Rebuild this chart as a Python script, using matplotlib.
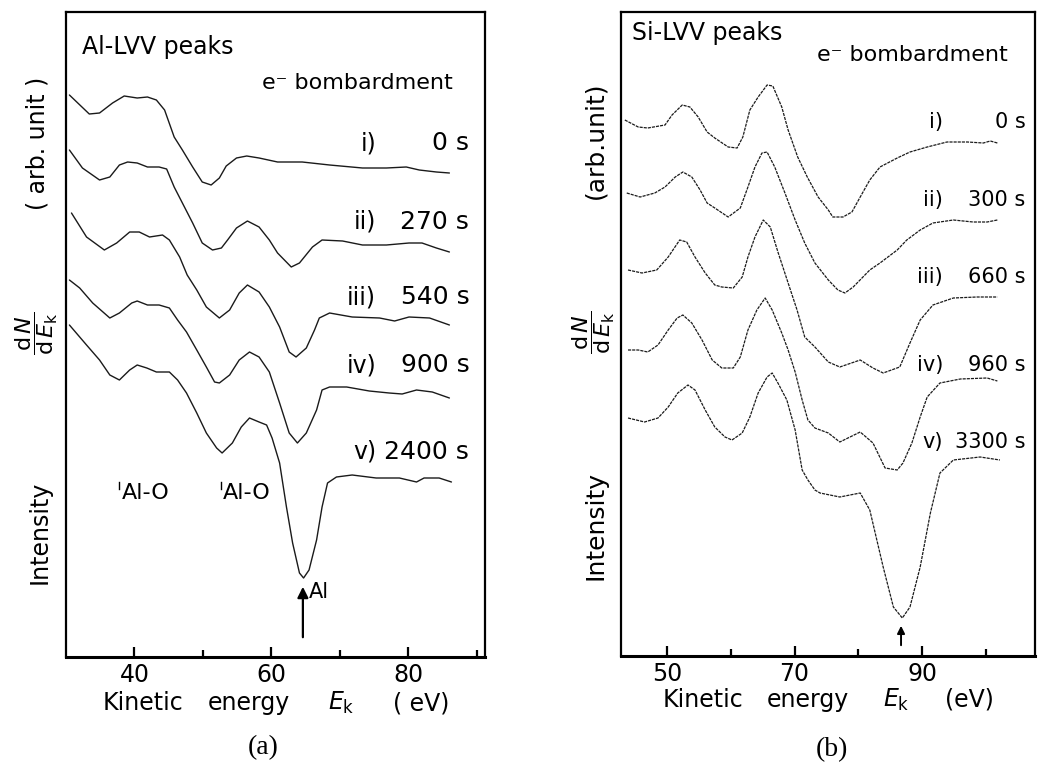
import matplotlib
matplotlib.use("Agg")
import matplotlib.pyplot as plt
from matplotlib.ticker import FixedLocator, NullLocator

plt.rcParams['font.family'] = ['DejaVu Sans']
plt.rcParams['mathtext.fontset'] = 'dejavusans'

# ---------------- Al-LVV spectra (kinetic energy / eV, dN/dE offset, arb. units)
AL_E_1 = [30.5, 33.4, 34.9, 36.8, 38.5, 40.4, 41.9, 43.2, 44.4, 45.8, 47.0, 48.5, 49.9, 51.2, 52.4, 53.4,
          54.9, 56.4, 58.2, 60.9, 64.5, 68.5, 73.3, 76.8, 79.7, 81.6, 84.1, 86.0]
AL_I_1 = [56.2, 54.3, 54.4, 55.4, 56.1, 55.9, 56.0, 55.7, 54.7, 52.0, 50.7, 49.0, 47.5, 47.2, 47.9, 49.1,
          49.9, 50.1, 49.9, 49.5, 49.5, 49.2, 48.9, 48.9, 49.0, 48.7, 48.5, 48.4]

AL_E_2 = [30.5, 32.4, 34.9, 36.4, 37.8, 39.0, 40.4, 41.9, 43.6, 44.7, 45.8, 47.3, 48.5, 49.9, 51.4, 52.7,
          53.6, 54.9, 56.5, 58.2, 59.7, 60.9, 62.9, 64.1, 66.0, 67.4, 70.4, 73.3, 76.8, 80.1, 82.0, 84.1, 86.0]
AL_I_2 = [50.7, 48.9, 47.7, 48.0, 49.2, 49.5, 49.4, 49.0, 49.0, 48.8, 47.0, 45.0, 43.4, 41.4, 40.7, 40.9,
          41.7, 42.9, 43.6, 43.0, 41.7, 40.4, 39.0, 39.4, 41.0, 41.7, 41.6, 41.2, 41.2, 41.4, 41.4, 40.9, 40.5]

AL_E_3 = [30.8, 33.0, 35.6, 37.4, 39.3, 40.7, 42.2, 44.1, 45.1, 46.6, 47.7, 49.1, 50.5, 52.4, 53.9, 55.3,
          56.5, 58.2, 59.7, 61.2, 62.6, 63.6, 65.1, 66.3, 67.0, 68.5, 71.8, 75.8, 78.0, 80.1, 83.1, 86.0]
AL_I_3 = [44.4, 42.0, 40.7, 41.4, 42.5, 42.5, 42.0, 42.2, 41.7, 40.0, 38.2, 36.7, 35.0, 33.9, 34.7, 36.4,
          37.2, 36.5, 35.0, 33.0, 30.5, 30.0, 30.9, 32.7, 33.9, 34.4, 34.0, 33.9, 33.6, 34.0, 33.9, 33.2]

AL_E_4 = [30.5, 32.0, 33.9, 36.4, 37.8, 39.6, 40.4, 41.9, 43.6, 45.1, 46.3, 47.6, 49.1, 50.5, 51.7, 52.4,
          53.9, 55.3, 56.8, 58.2, 59.7, 61.2, 62.6, 63.8, 65.1, 66.6, 67.4, 68.5, 71.0, 74.3, 77.2, 79.1,
          81.2, 83.5, 86.0]
AL_I_4 = [37.7, 36.9, 35.4, 33.9, 34.4, 35.4, 35.6, 35.2, 35.2, 34.9, 33.7, 32.5, 30.7, 29.0, 27.5, 27.4,
          28.2, 29.7, 30.5, 30.0, 28.5, 25.4, 22.4, 21.4, 22.4, 24.7, 26.7, 27.0, 27.0, 26.6, 26.4, 26.3,
          26.7, 26.5, 25.9]

AL_E_5 = [30.5, 33.0, 34.9, 36.4, 37.8, 39.3, 40.4, 41.8, 43.2, 45.1, 46.3, 47.6, 49.1, 50.5, 52.0, 52.8,
          54.3, 55.6, 56.8, 58.2, 59.3, 60.1, 61.2, 62.2, 63.1, 64.1, 64.7, 65.5, 66.6, 67.4, 68.2, 69.5,
          71.8, 75.3, 78.7, 81.2, 82.3, 84.5, 86.3]
AL_I_5 = [33.2, 31.2, 29.7, 28.2, 27.7, 28.7, 29.2, 28.9, 28.5, 28.5, 27.7, 26.4, 24.4, 22.4, 20.9, 20.4,
          21.4, 23.0, 23.9, 23.5, 23.2, 21.9, 19.4, 15.0, 11.4, 8.4, 7.9, 8.7, 11.7, 15.0, 17.4, 18.0,
          18.2, 17.9, 17.9, 17.5, 17.9, 17.9, 17.5]

AL_NUMERALS = ["i)", "ii)", "iii)", "iv)", "v)"]
AL_TIMES = ["0 s", "270 s", "540 s", "900 s", "2400 s"]
AL_O_ENERGIES = [37.8, 52.6]     # Al-O features
AL_METAL_ENERGY = 64.6           # metallic Al peak

# ---------------- Si-LVV spectra
SI_E_1 = [43.4, 45.5, 47.0, 49.7, 50.8, 52.4, 53.6, 54.9, 56.3, 57.5, 59.6, 61.0, 61.9, 63.0, 64.3, 65.7,
          66.6, 68.0, 69.0, 70.5, 72.0, 73.7, 75.3, 76.0, 77.6, 79.0, 80.3, 81.8, 83.4, 86.1, 88.1, 90.8,
          93.9, 97.1, 99.6, 100.7, 101.8]
SI_I_1 = [53.6, 52.9, 52.8, 53.1, 54.1, 55.1, 54.9, 53.9, 52.4, 51.8, 50.9, 50.8, 51.9, 54.6, 55.9, 57.1,
          57.0, 54.9, 52.6, 49.9, 47.9, 45.9, 44.6, 43.9, 43.9, 44.4, 45.9, 47.6, 48.9, 49.8, 50.4, 50.9,
          51.4, 51.4, 51.3, 51.5, 51.3]

SI_E_2 = [43.7, 45.8, 48.1, 49.7, 51.3, 52.5, 53.9, 55.2, 56.3, 57.5, 59.6, 61.5, 62.7, 63.8, 64.9, 65.7,
          66.9, 68.5, 70.1, 71.6, 73.2, 75.3, 76.8, 77.9, 79.2, 81.8, 83.4, 86.1, 87.6, 89.7, 91.7, 94.9,
          98.0, 100.2, 101.8]
SI_I_2 = [46.3, 45.9, 46.3, 46.9, 47.9, 48.4, 47.9, 46.6, 45.3, 44.8, 43.9, 44.8, 46.9, 48.9, 50.3, 50.4,
          48.9, 46.3, 43.6, 41.3, 39.3, 37.6, 36.6, 36.3, 36.9, 38.6, 39.3, 40.6, 41.6, 42.6, 43.3, 43.6,
          43.4, 43.4, 43.6]

SI_E_3 = [43.9, 46.1, 48.4, 50.2, 52.0, 53.1, 54.4, 56.0, 57.5, 58.6, 60.4, 61.8, 62.7, 63.8, 65.1, 66.2,
          67.4, 69.0, 70.4, 71.6, 73.2, 75.3, 77.1, 80.3, 82.3, 83.9, 86.5, 88.1, 89.7, 91.7, 94.9, 98.6,
          101.8]
SI_I_3 = [38.6, 38.3, 38.6, 39.9, 41.6, 41.4, 39.9, 38.3, 37.1, 36.9, 36.8, 37.9, 39.9, 41.9, 43.6, 42.9,
          40.4, 37.3, 34.6, 31.9, 30.9, 29.4, 28.9, 29.6, 28.8, 28.3, 28.9, 31.3, 33.6, 35.1, 35.8, 35.9,
          35.9]

SI_E_4 = [43.9, 45.5, 47.0, 48.6, 50.2, 51.6, 52.5, 53.9, 55.5, 57.1, 58.6, 60.4, 61.5, 62.7, 64.1, 65.4,
          66.5, 68.0, 69.0, 70.1, 71.2, 72.1, 73.2, 75.3, 77.1, 80.3, 82.3, 84.2, 86.1, 87.0, 88.4, 89.7,
          90.8, 92.8, 96.0, 100.2, 101.8]
SI_I_4 = [30.6, 30.6, 30.4, 31.1, 32.6, 33.8, 34.1, 33.3, 31.6, 29.6, 28.8, 28.8, 29.9, 32.6, 34.6, 35.8,
          34.6, 32.3, 30.6, 28.4, 25.6, 23.6, 22.8, 22.3, 21.4, 22.4, 21.3, 18.8, 18.6, 19.3, 21.3, 23.9,
          25.9, 27.3, 27.7, 27.8, 27.5]

SI_E_5 = [43.9, 46.5, 48.6, 50.2, 51.7, 53.3, 54.4, 56.0, 57.5, 59.1, 60.2, 61.8, 63.0, 64.3, 65.7, 66.5,
          67.4, 68.8, 70.1, 71.2, 72.1, 73.2, 74.0, 77.1, 80.3, 81.8, 83.9, 85.5, 86.9, 88.1, 89.7, 91.3,
          92.8, 94.9, 99.1, 102.2]
SI_I_5 = [23.8, 23.4, 23.8, 24.9, 26.3, 27.1, 26.6, 24.6, 22.9, 21.9, 21.6, 22.3, 23.9, 26.3, 27.9, 28.3,
          27.3, 25.6, 22.6, 18.6, 17.6, 16.6, 16.3, 15.9, 16.3, 14.6, 8.9, 4.9, 3.8, 4.9, 8.9, 14.3,
          18.3, 19.6, 19.9, 19.6]

SI_NUMERALS = ["i)", "ii)", "iii)", "iv)", "v)"]
SI_TIMES = ["0 s", "300 s", "660 s", "960 s", "3300 s"]
SI_METAL_ENERGY = 86.7

AL_TICKS = [40, 60, 80]
AL_MINOR = [50, 70, 90]
SI_TICKS = [50, 70, 90]
SI_MINOR = [60, 80, 100]

W, H = 1038, 769
fig = plt.figure(figsize=(W / 100, H / 100), dpi=100)
fig.patch.set_facecolor("white")


def px_box(x0, x1, ytop, ybot):
    return [x0 / W, 1 - ybot / H, (x1 - x0) / W, (ybot - ytop) / H]


ax_a = fig.add_axes(px_box(66, 485, 12, 657))
ax_b = fig.add_axes(px_box(621, 1035, 12, 656))

LINE = "#1a1a1a"


def style_axes(ax, xlim, major, minor):
    ax.set_xlim(*xlim)
    ax.set_ylim(0, 64.5)
    ax.yaxis.set_major_locator(NullLocator())
    ax.xaxis.set_major_locator(FixedLocator(major))
    ax.xaxis.set_minor_locator(FixedLocator(minor))
    ax.tick_params(axis="x", which="both", direction="in", width=1.6, colors="k",
                   labelsize=17, pad=4)
    ax.tick_params(axis="x", which="major", length=7)
    ax.tick_params(axis="x", which="minor", length=5)
    for side, sp in ax.spines.items():
        sp.set_linewidth(2.2 if side == "bottom" else 1.6)
        sp.set_color("k")


# ---------------- panel (a)
style_axes(ax_a, (30, 91.2), AL_TICKS, AL_MINOR)
al_curves = [(AL_E_1, AL_I_1), (AL_E_2, AL_I_2), (AL_E_3, AL_I_3), (AL_E_4, AL_I_4), (AL_E_5, AL_I_5)]
for e, i in al_curves:
    ax_a.plot(e, i, color=LINE, lw=1.0, solid_joinstyle="round", solid_capstyle="round")

al_label_y = [51.4, 43.5, 36.0, 29.2, 20.5]
for num, t, y in zip(AL_NUMERALS, AL_TIMES, al_label_y):
    ax_a.text(75.3, y, num, ha="right", va="center", fontsize=17)
    ax_a.text(88.9, y, t, ha="right", va="center", fontsize=18)

ax_a.text(32.3, 61.0, "Al-LVV peaks", ha="left", va="center", fontsize=17)
ax_a.text(58.7, 57.4, "e\u207b bombardment", ha="left", va="center", fontsize=16)

for e0 in AL_O_ENERGIES:
    ax_a.plot([e0, e0], [16.8, 17.5], color="k", lw=1.0)
    ax_a.text(e0 + 0.3, 16.4, "Al-O", ha="left", va="center", fontsize=16)

ax_a.annotate("", xy=(AL_METAL_ENERGY, 7.3), xytext=(AL_METAL_ENERGY, 1.7),
              arrowprops=dict(arrowstyle="-|>", lw=1.6, color="k", mutation_scale=16))
ax_a.text(AL_METAL_ENERGY + 0.8, 6.5, "Al", ha="left", va="center", fontsize=15)

# ---------------- panel (b)
style_axes(ax_b, (42.8, 107.7), SI_TICKS, SI_MINOR)
ax_b.set_ylim(0, 64.4)
si_curves = [(SI_E_1, SI_I_1), (SI_E_2, SI_I_2), (SI_E_3, SI_I_3), (SI_E_4, SI_I_4), (SI_E_5, SI_I_5)]
for e, i in si_curves:
    ax_b.plot(e, i, color=LINE, lw=0.9, linestyle=(0, (2.5, 0.8)), dash_joinstyle="round")

si_label_y = [53.4, 45.6, 37.9, 29.1, 21.4]
for num, t, y in zip(SI_NUMERALS, SI_TIMES, si_label_y):
    ax_b.text(93.3, y, num, ha="right", va="center", fontsize=15)
    ax_b.text(106.2, y, t, ha="right", va="center", fontsize=15)

ax_b.text(44.5, 62.3, "Si-LVV peaks", ha="left", va="center", fontsize=17)
ax_b.text(73.5, 60.1, "e\u207b bombardment", ha="left", va="center", fontsize=16)

ax_b.annotate("", xy=(SI_METAL_ENERGY, 3.3), xytext=(SI_METAL_ENERGY, 0.8),
              arrowprops=dict(arrowstyle="-|>", lw=1.4, color="k", mutation_scale=11))


# ---------------- axis titles placed in figure pixels
def ftext(x, y, s, **kw):
    fig.text(x / W, 1 - y / H, s, **kw)


for (x, s) in [(103, "Kinetic"), (208, "energy"), (328, r"$E_{\mathrm{k}}$"), (393, "( eV)")]:
    ftext(x, 703, s, ha="left", va="center", fontsize=17)
for (x, s) in [(663, "Kinetic"), (767, "energy"), (883, r"$E_{\mathrm{k}}$"), (945, "(eV)")]:
    ftext(x, 700, s, ha="left", va="center", fontsize=17)

FRAC = r"$\dfrac{\mathrm{d}\,N}{\mathrm{d}\,E_{\mathrm{k}}}$"

ftext(40, 532, "Intensity", rotation=90, ha="center", va="center", fontsize=17)
ftext(37, 333, FRAC, rotation=90, ha="center", va="center", fontsize=16)
ftext(37, 143, "( arb. unit )", rotation=90, ha="center", va="center", fontsize=17)

ftext(595, 526, "Intensity", rotation=90, ha="center", va="center", fontsize=18)
ftext(594, 332, FRAC, rotation=90, ha="center", va="center", fontsize=16)
ftext(595, 140, "(arb.unit)", rotation=90, ha="center", va="center", fontsize=18)

ftext(263, 748, "(a)", ha="center", va="center", fontsize=20, family="Liberation Serif")
ftext(832, 750, "(b)", ha="center", va="center", fontsize=20, family="Liberation Serif")

fig.savefig("out.png", dpi=100, facecolor="white")
